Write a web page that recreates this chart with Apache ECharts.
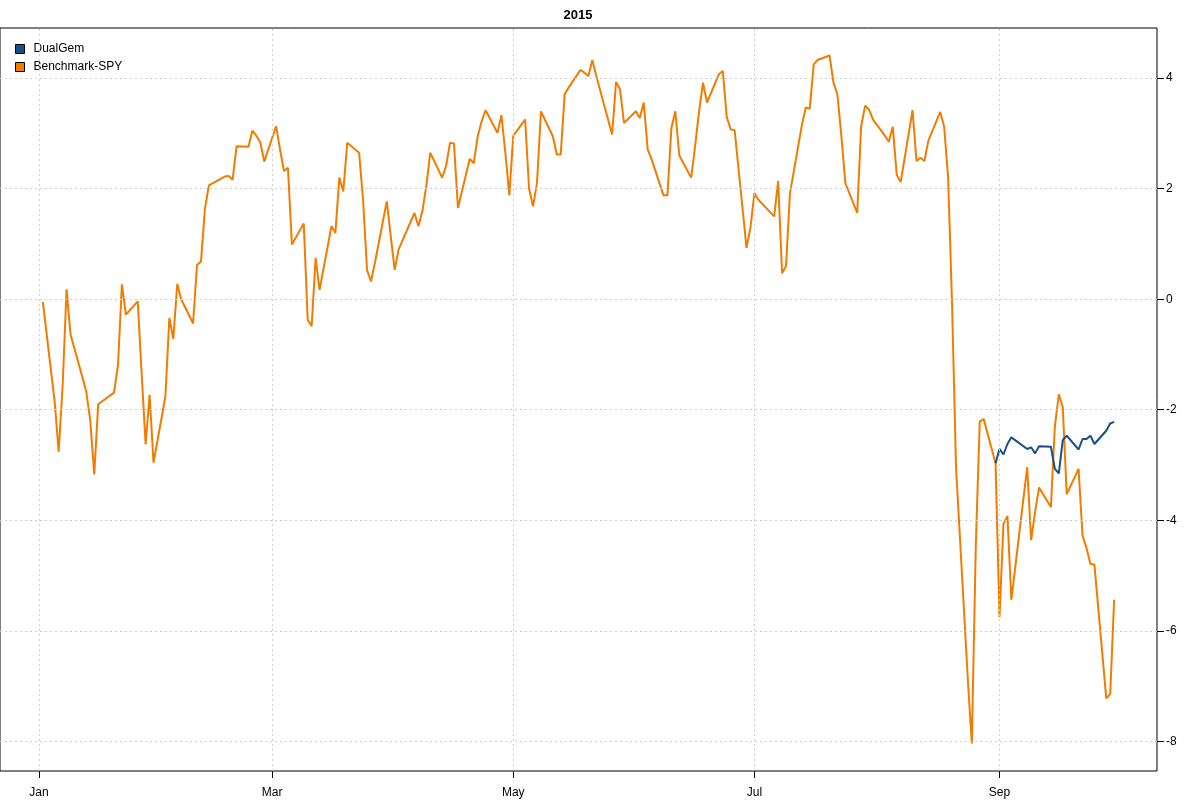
<!DOCTYPE html>
<html><head><meta charset="utf-8">
<script src="https://cdn.jsdelivr.net/npm/echarts@6/dist/echarts.min.js"></script>
<style>html,body{margin:0;padding:0;background:#fff}#c{width:1200px;height:800px}</style>
</head><body><div id="c"></div><script>
// Trading dates (categories)
const dates = [
 '2015-01-02','2015-01-05','2015-01-06','2015-01-07','2015-01-08','2015-01-09','2015-01-12','2015-01-13','2015-01-14','2015-01-15','2015-01-16','2015-01-20','2015-01-21','2015-01-22','2015-01-23','2015-01-26','2015-01-27','2015-01-28','2015-01-29','2015-01-30',
 '2015-02-02','2015-02-03','2015-02-04','2015-02-05','2015-02-06','2015-02-09','2015-02-10','2015-02-11','2015-02-12','2015-02-13','2015-02-17','2015-02-18','2015-02-19','2015-02-20','2015-02-23','2015-02-24','2015-02-25','2015-02-26','2015-02-27',
 '2015-03-02','2015-03-03','2015-03-04','2015-03-05','2015-03-06','2015-03-09','2015-03-10','2015-03-11','2015-03-12','2015-03-13','2015-03-16','2015-03-17','2015-03-18','2015-03-19','2015-03-20','2015-03-23','2015-03-24','2015-03-25','2015-03-26','2015-03-27','2015-03-30','2015-03-31',
 '2015-04-01','2015-04-02','2015-04-06','2015-04-07','2015-04-08','2015-04-09','2015-04-10','2015-04-13','2015-04-14','2015-04-15','2015-04-16','2015-04-17','2015-04-20','2015-04-21','2015-04-22','2015-04-23','2015-04-24','2015-04-27','2015-04-28','2015-04-29','2015-04-30',
 '2015-05-01','2015-05-04','2015-05-05','2015-05-06','2015-05-07','2015-05-08','2015-05-11','2015-05-12','2015-05-13','2015-05-14','2015-05-15','2015-05-18','2015-05-19','2015-05-20','2015-05-21','2015-05-22','2015-05-26','2015-05-27','2015-05-28','2015-05-29',
 '2015-06-01','2015-06-02','2015-06-03','2015-06-04','2015-06-05','2015-06-08','2015-06-09','2015-06-10','2015-06-11','2015-06-12','2015-06-15','2015-06-16','2015-06-17','2015-06-18','2015-06-19','2015-06-22','2015-06-23','2015-06-24','2015-06-25','2015-06-26','2015-06-29','2015-06-30',
 '2015-07-01','2015-07-02','2015-07-06','2015-07-07','2015-07-08','2015-07-09','2015-07-10','2015-07-13','2015-07-14','2015-07-15','2015-07-16','2015-07-17','2015-07-20','2015-07-21','2015-07-22','2015-07-23','2015-07-24','2015-07-27','2015-07-28','2015-07-29','2015-07-30','2015-07-31',
 '2015-08-03','2015-08-04','2015-08-05','2015-08-06','2015-08-07','2015-08-10','2015-08-11','2015-08-12','2015-08-13','2015-08-14','2015-08-17','2015-08-18','2015-08-19','2015-08-20','2015-08-21','2015-08-24','2015-08-25','2015-08-26','2015-08-27','2015-08-28','2015-08-31',
 '2015-09-01','2015-09-02','2015-09-03','2015-09-04','2015-09-08','2015-09-09','2015-09-10','2015-09-11','2015-09-14','2015-09-15','2015-09-16','2015-09-17','2015-09-18','2015-09-21','2015-09-22','2015-09-23','2015-09-24','2015-09-25','2015-09-28','2015-09-29','2015-09-30'
];
// Benchmark-SPY cumulative return (%)
const benchmarkSPY = [
 -0.05,-1.86,-2.76,-1.57,0.18,-0.64,-1.41,-1.68,-2.2,-3.17,-1.9,-1.69,-1.2,0.27,-0.28,-0.04,-1.36,-2.63,-1.73,-2.96,
 -1.76,-0.34,-0.72,0.28,0.0,-0.44,0.62,0.68,1.64,2.06,2.22,2.23,2.16,2.77,2.76,3.05,2.96,2.84,2.49,
 3.13,2.71,2.32,2.38,0.99,1.37,-0.37,-0.49,0.75,0.17,1.32,1.2,2.2,1.95,2.83,2.65,1.8,0.53,0.32,0.66,1.77,1.14,
 0.53,0.9,1.56,1.32,1.59,2.05,2.65,2.2,2.41,2.83,2.82,1.65,2.54,2.46,2.95,3.22,3.42,3.01,3.33,2.65,1.88,
 2.96,3.25,2.0,1.68,2.1,3.4,2.95,2.62,2.62,3.71,3.83,4.15,4.1,4.04,4.33,4.04,2.98,3.93,3.8,3.19,
 3.4,3.28,3.56,2.71,2.53,1.88,1.88,3.1,3.4,2.6,2.2,2.77,3.4,3.92,3.56,4.07,4.13,3.3,3.07,3.06,0.93,1.3,
 1.92,1.8,1.5,2.14,0.47,0.6,1.92,3.15,3.47,3.45,4.25,4.33,4.41,3.92,3.7,2.95,2.1,1.56,3.13,3.5,3.43,3.25,
 2.96,2.85,3.12,2.25,2.12,3.42,2.5,2.56,2.5,2.87,3.39,3.12,2.2,-0.1,-3.04,-6.9,-8.04,-4.46,-2.21,-2.17,-2.97,
 -5.75,-4.07,-3.92,-5.44,-3.04,-4.36,-3.85,-3.41,-3.76,-2.3,-1.72,-1.95,-3.53,-3.07,-4.28,-4.5,-4.79,-4.8,-7.22,-7.15,-5.44
];
// DualGem cumulative return (%) – starts on this date
const dualGemStart = '2015-08-31';
const dualGem = [
 -2.97,
 -2.71,-2.81,-2.62,-2.5,-2.71,-2.68,-2.79,-2.66,-2.67,-3.07,-3.15,-2.55,-2.47,-2.72,-2.53,-2.53,-2.47,-2.62,-2.38,-2.25,-2.22
];
const seriesNames = ['DualGem','Benchmark-SPY'];
const seriesColors = ['#164F8A','#F27C00'];
const monthTickDates = ['2015-01-01','2015-03-01','2015-05-01','2015-07-01','2015-09-01'];
const monthTickLabels = ['Jan','Mar','May','Jul','Sep'];
const yTicks = [-8,-6,-4,-2,0,2,4];
const chartTitle = '2015';

const ts = s => Date.parse(s + 'T00:00:00Z');
const xs = dates.map(ts);
const benchData = dates.map((d,i)=>[xs[i], benchmarkSPY[i]]);
const startIdx = dates.indexOf(dualGemStart);
const dualData = dualGem.map((v,i)=>[xs[startIdx+i], v]);
const xPad = (xs[xs.length-1]-xs[0])*0.04;
const allY = benchmarkSPY.concat(dualGem);
const yLo = Math.min(...allY), yHi = Math.max(...allY);
const yPad = (yHi-yLo)*0.04;
const tickTs = monthTickDates.map(ts);
const FONT = '"Liberation Sans", Arial, sans-serif';

const gridLineStyle = {color:'#d0d0d0', width:1, type:[2,3]};
const chart = echarts.init(document.getElementById('c'), null, {renderer:'canvas'});
chart.setOption({
  animation:false,
  backgroundColor:'#fff',
  textStyle:{fontFamily:FONT},
  title:{text:chartTitle, left:578, top:9, padding:0, textAlign:'center',
    textStyle:{fontSize:13, fontWeight:'bold', color:'#000', fontFamily:FONT}},
  legend:{data:seriesNames, orient:'vertical', left:10, top:38, itemWidth:9, itemHeight:9, itemGap:6,
    icon:'rect', itemStyle:{borderColor:'#000', borderWidth:1},
    textStyle:{fontSize:12, color:'#000', fontFamily:FONT, padding:[0,0,0,4]}},
  grid:{left:0, right:43, top:28, bottom:29, show:true, borderColor:'#000', borderWidth:1, backgroundColor:'transparent'},
  xAxis:{type:'value', position:'bottom', min:xs[0]-xPad, max:xs[xs.length-1]+xPad,
    axisLine:{show:false, onZero:false}, splitLine:{show:false},
    axisTick:{show:true, length:7, customValues:tickTs, lineStyle:{color:'#000'}},
    axisLabel:{customValues:tickTs, margin:16, fontSize:12, color:'#000', fontFamily:FONT,
      formatter:v=>{const k=tickTs.indexOf(v); return k>=0?monthTickLabels[k]:'';}}},
  yAxis:{type:'value', position:'right', min:yLo-yPad, max:yHi+yPad,
    axisLine:{show:false, onZero:false}, splitLine:{show:false},
    axisTick:{show:true, length:7, customValues:yTicks, lineStyle:{color:'#000'}},
    axisLabel:{customValues:yTicks, margin:9, fontSize:12, color:'#000', fontFamily:FONT}},
  series:[
    {name:'grid', type:'line', data:[], silent:true, symbol:'none',
      markLine:{silent:true, symbol:'none', label:{show:false}, lineStyle:gridLineStyle, animation:false,
        data: yTicks.map(v=>({yAxis:v})).concat(tickTs.map(v=>({xAxis:v})))}},
    {name:seriesNames[1], type:'line', data:benchData, symbol:'none', showSymbol:false,
      color:seriesColors[1], lineStyle:{width:2, color:seriesColors[1]}, itemStyle:{color:seriesColors[1]}},
    {name:seriesNames[0], type:'line', data:dualData, symbol:'none', showSymbol:false,
      color:seriesColors[0], lineStyle:{width:2, color:seriesColors[0]}, itemStyle:{color:seriesColors[0]}}
  ]
});
</script></body></html>
